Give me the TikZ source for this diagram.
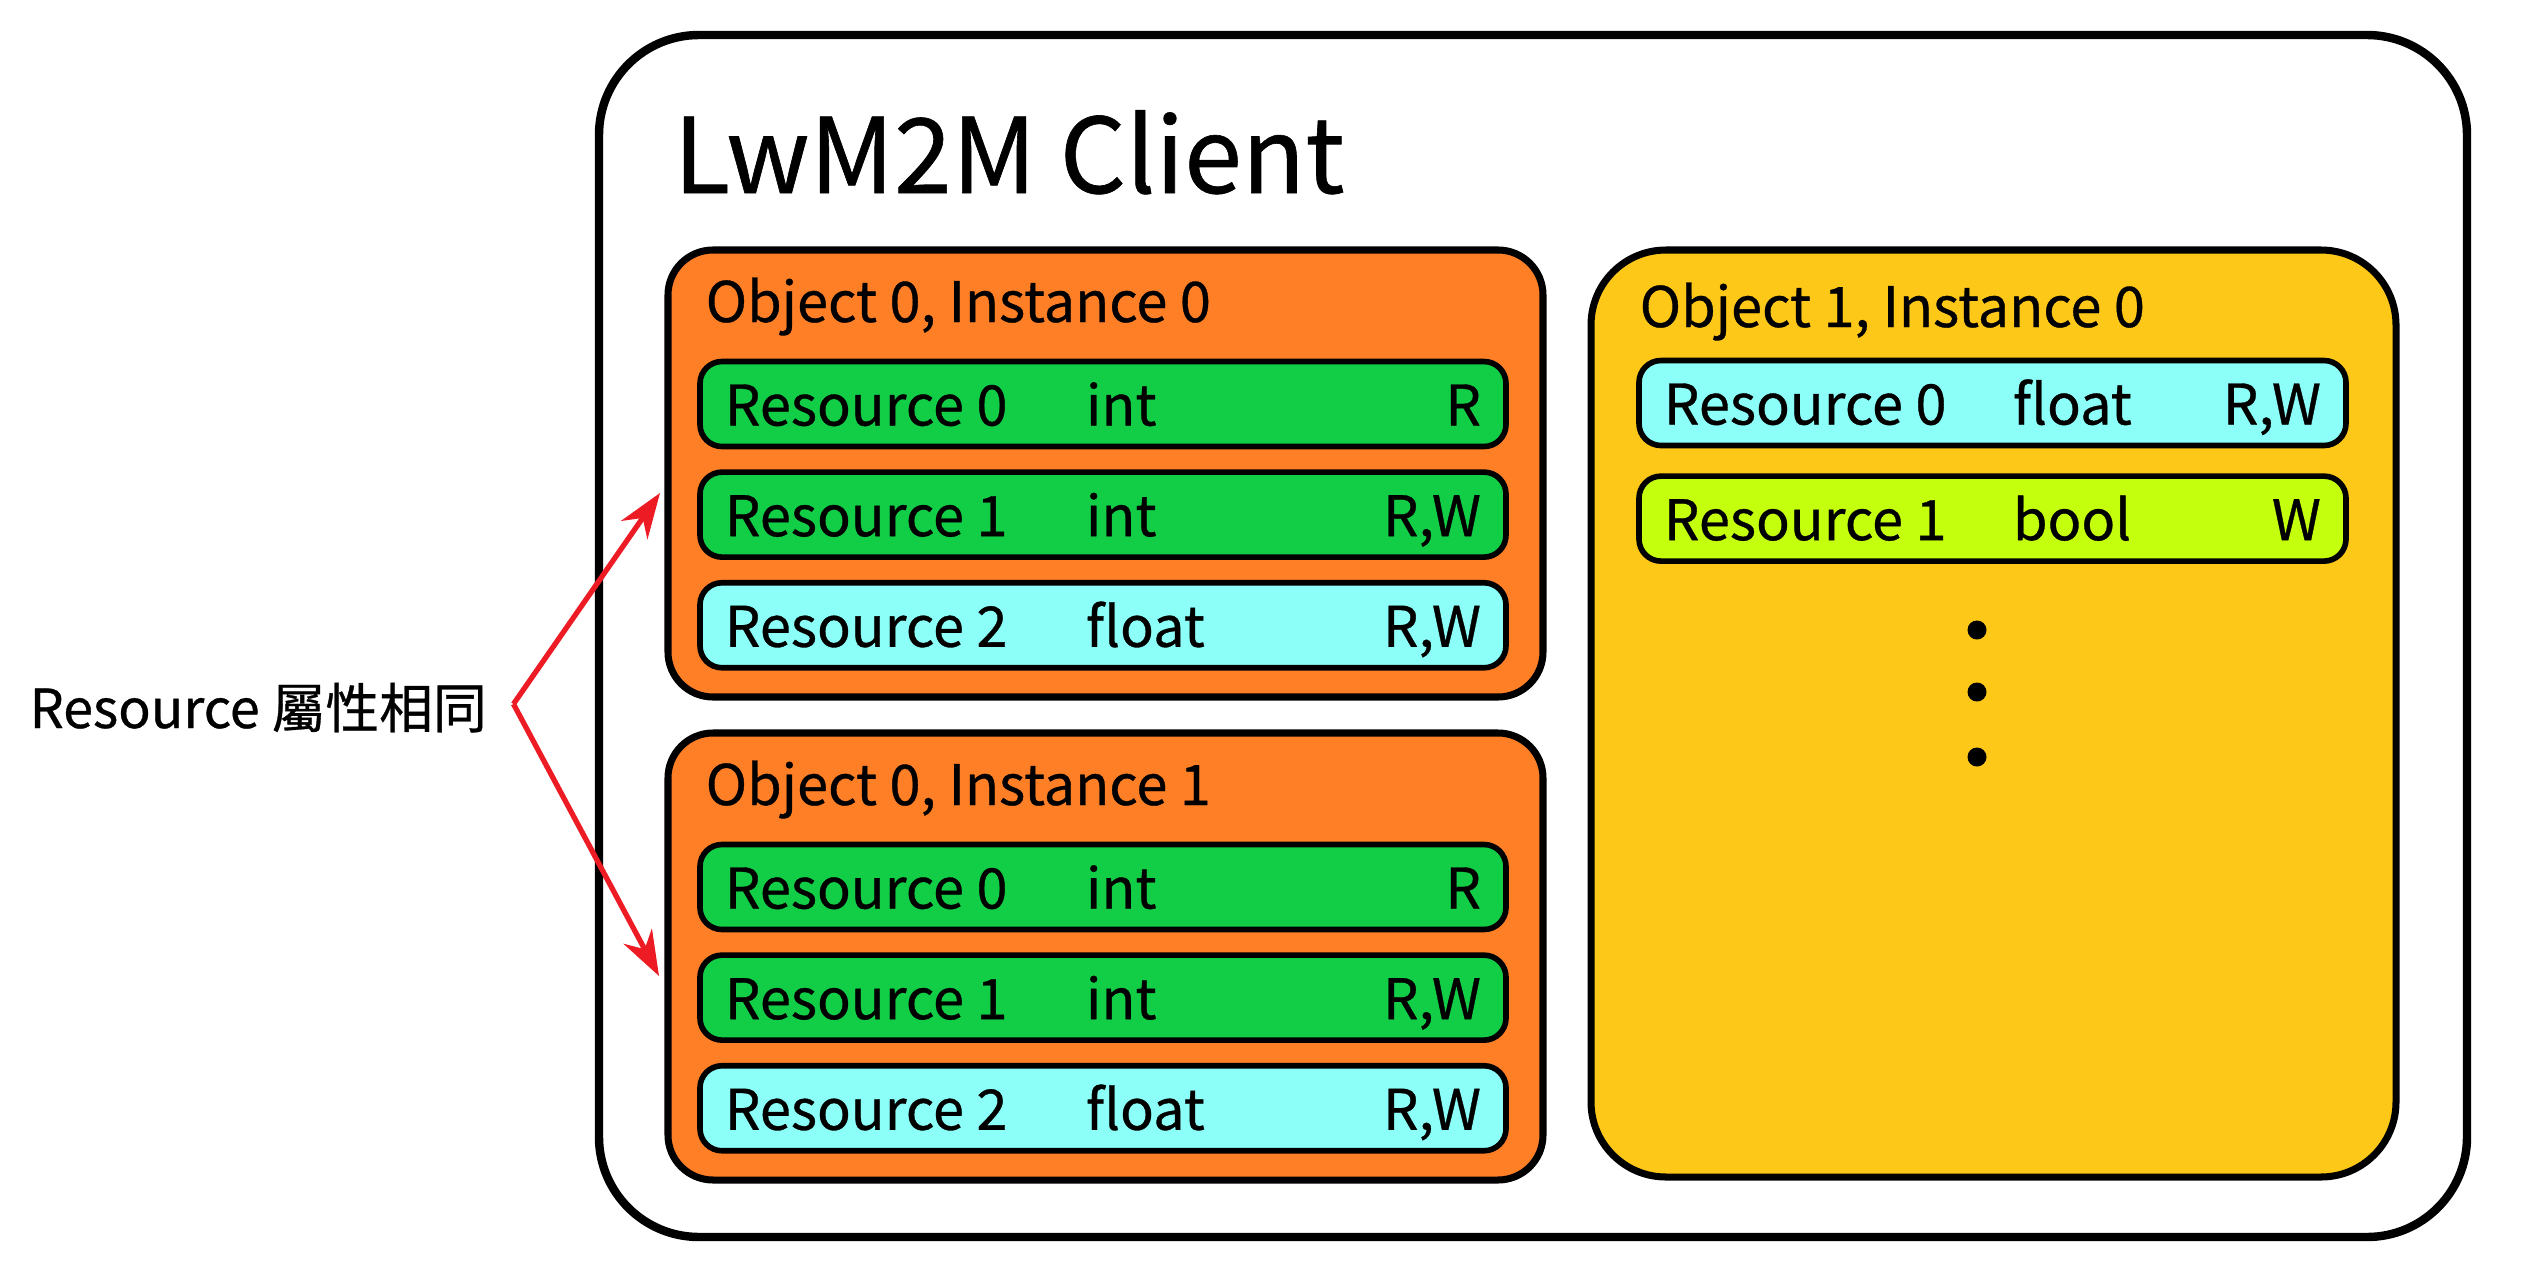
\documentclass[tikz,border=0pt]{standalone}
\usepackage{fontspec}
\setmainfont{Noto Sans CJK TC}[FakeBold=0.6]
\usetikzlibrary{arrows.meta,positioning}

\definecolor{objorange}{RGB}{255,127,39}
\definecolor{objyellow}{RGB}{254,200,24}
\definecolor{resgreen}{RGB}{18,206,71}
\definecolor{rescyan}{RGB}{140,255,249}
\definecolor{reslime}{RGB}{196,255,14}
\definecolor{arrowred}{RGB}{237,28,36}

% one resource line: width, type column, name, type, access
\newcommand{\resline}[5]{\hbox to #1{\hbox to #2{#3\hss}#4\hfill #5}}

\tikzset{
  client/.style={draw, line width=2.4pt, rounded corners=1cm, minimum width=18.68cm, minimum height=12.02cm},
  objbox/.style={draw, line width=2pt, rounded corners=0.45cm, fill=objorange, minimum width=8.75cm, minimum height=4.47cm},
  objtitle/.style={anchor=base west, inner sep=0pt, font=\fontsize{15.9}{19}\selectfont},
  resrow/.style={draw, line width=1.6pt, rounded corners=0.22cm, minimum height=0.85cm, inner xsep=0.25cm, text height=0.43cm, text depth=0pt, font=\fontsize{15.9}{18}\selectfont},
  dot/.style={circle, fill=black, inner sep=0pt, minimum size=0.19cm},
  samearrow/.style={draw=arrowred, line width=1.5pt, -{Stealth[length=0.45cm, width=0.32cm]}}
}

\begin{document}
\begin{tikzpicture}
\useasboundingbox (0,0) rectangle (25.25,-12.87);

% Client
\node[client] (client) at (15.33,-6.36) {};
\node[anchor=base west, inner sep=0pt, font=\fontsize{29.6}{34}\selectfont] (title) at (6.73,-1.93) {LwM2M Client};

% Objects
\node[objbox] (obj00) at (11.055,-4.735) {};
\node[objbox] (obj01) at (11.055,-9.565) {};
\node[draw, line width=2pt, rounded corners=0.75cm, fill=objyellow, minimum width=8.05cm, minimum height=9.27cm] (obj10) at (19.935,-7.135) {};

\node[objtitle] (t00) at (7.05,-3.22) {Object 0, Instance 0};
\node[objtitle] (t01) at (7.05,-8.05) {Object 0, Instance 1};
\node[objtitle] (t10) at (16.39,-3.27) {Object 1, Instance 0};

% Resources of object 0, instance 0
\node[resrow, fill=resgreen] (a0) at (11.03,-4.04) {\resline{7.56cm}{3.61cm}{Resource 0}{int}{R}};
\node[resrow, fill=resgreen, below=0.2cm of a0] (a1) {\resline{7.56cm}{3.61cm}{Resource 1}{int}{R,W}};
\node[resrow, fill=rescyan, below=0.2cm of a1] (a2) {\resline{7.56cm}{3.61cm}{Resource 2}{float}{R,W}};

% Resources of object 0, instance 1
\node[resrow, fill=resgreen] (b0) at (11.03,-8.87) {\resline{7.56cm}{3.61cm}{Resource 0}{int}{R}};
\node[resrow, fill=resgreen, below=0.2cm of b0] (b1) {\resline{7.56cm}{3.61cm}{Resource 1}{int}{R,W}};
\node[resrow, fill=rescyan, below=0.2cm of b1] (b2) {\resline{7.56cm}{3.61cm}{Resource 2}{float}{R,W}};

% Resources of object 1, instance 0
\node[resrow, fill=rescyan] (c0) at (19.925,-4.03) {\resline{6.57cm}{3.49cm}{Resource 0}{float}{R,W}};
\node[resrow, fill=reslime, below=0.25cm of c0] (c1) {\resline{6.57cm}{3.49cm}{Resource 1}{bool}{W}};

\foreach \y [count=\i] in {6.30,6.92,7.57}
  \node[dot] (dot\i) at (19.77,-\y) {};

% Label and arrows
\node[anchor=base west, inner sep=0pt, font=\fontsize{15.3}{18}\selectfont] (same) at (0.29,-7.28) {Resource 屬性相同};
\coordinate (apex) at ([xshift=0.26cm]same.east |- 0,-7.04);
\coordinate (tipA) at (6.60,-4.93);
\coordinate (tipB) at (6.59,-9.76);
\draw[samearrow] (apex) -- (tipA);
\draw[samearrow] (apex) -- (tipB);
\end{tikzpicture}
\end{document}
